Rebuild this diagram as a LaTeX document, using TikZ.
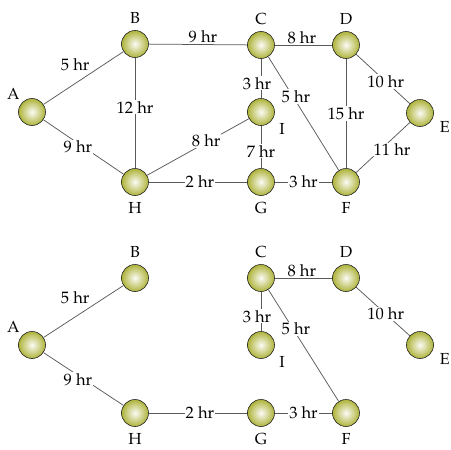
\documentclass[tikz,border=0pt]{standalone}
\usepackage[T1]{fontenc}
\renewcommand{\rmdefault}{ppl}
\usetikzlibrary{positioning}
\definecolor{ballolive}{HTML}{AEB33A}
\definecolor{roadgray}{HTML}{5A5A5A}

\begin{document}
\begin{tikzpicture}[x=1pt, y=-1pt,
      city/.style={circle, draw=black!85, line width=0.6pt, minimum size=27pt, inner sep=0pt,
                   inner color=ballolive!5, outer color=ballolive},
      lbl/.style={font=\fontsize{16}{18}\selectfont, inner sep=1pt, label distance=5pt},
      road/.style={draw=roadgray, line width=0.75pt},
      hrs/.style={font=\fontsize{16.5}{18}\selectfont, fill=white, inner sep=1pt}]
    \useasboundingbox (0,0) rectangle (451,450);
    % full road network
    \node[city, label={[lbl, label distance=2pt]above left:A}] (A) at (32,112) {};
    \node[city, label={[lbl]above:B}] (B) at (135,44) {};
    \node[city, label={[lbl]above:C}] (C) at (261,45) {};
    \node[city, label={[lbl]above:D}] (D) at (346,45) {};
    \node[city, label={[lbl, label distance=6pt]-20:E}] (E) at (420,113) {};
    \node[city, label={[lbl, label distance=6pt]-30:I}] (I) at (261,112) {};
    \node[city, label={[lbl]below:H}] (H) at (135,182) {};
    \node[city, label={[lbl]below:G}] (G) at (261,182) {};
    \node[city, label={[lbl]below:F}] (F) at (346,182) {};
    \draw[road] (A) -- node[hrs, pos=.6, above left=1pt, fill=none] {5 hr} (B);
    \draw[road] (A) -- node[hrs, pos=.43, yshift=-4pt] {9 hr} (H);
    \draw[road] (B) -- node[hrs, pos=.45] {12 hr} (H);
    \draw[road] (B) -- node[hrs, pos=.55, above] {9 hr} (C);
    \draw[road] (C) -- node[hrs, pos=.47, above] {8 hr} (D);
    \draw[road] (C) -- node[hrs, pos=.62, xshift=-4pt] {3 hr} (I);
    \draw[road] (C) -- node[hrs, pos=.35, xshift=3pt] {5 hr} (F);
    \draw[road] (D) -- node[hrs, pos=.5] {15 hr} (F);
    \draw[road] (D) -- node[hrs, pos=.55] {10 hr} (E);
    \draw[road] (E) -- node[hrs, pos=.5, xshift=9pt, yshift=-2pt] {11 hr} (F);
    \draw[road] (H) -- node[hrs, pos=.58, yshift=2pt] {8 hr} (I);
    \draw[road] (I) -- node[hrs, pos=.6] {7 hr} (G);
    \draw[road] (H) -- node[hrs, pos=.52] {2 hr} (G);
    \draw[road] (G) -- node[hrs, pos=.5] {3 hr} (F);
    % spanning tree
    \node[city, label={[lbl, label distance=2pt]above left:A}] (a2) at (32,345) {};
    \node[city, label={[lbl]above:B}] (b2) at (135,278) {};
    \node[city, label={[lbl]above:C}] (c2) at (261,278) {};
    \node[city, label={[lbl]above:D}] (d2) at (346,278) {};
    \node[city, label={[lbl, label distance=6pt]-20:E}] (e2) at (420,345) {};
    \node[city, label={[lbl, label distance=6pt]-30:I}] (i2) at (261,345) {};
    \node[city, label={[lbl]below:H}] (h2) at (135,413) {};
    \node[city, label={[lbl]below:G}] (g2) at (261,413) {};
    \node[city, label={[lbl]below:F}] (f2) at (346,413) {};
    \draw[road] (a2) -- node[hrs, pos=.6, above left=1pt, fill=none] {5 hr} (b2);
    \draw[road] (a2) -- node[hrs, pos=.43, yshift=-4pt] {9 hr} (h2);
    \draw[road] (c2) -- node[hrs, pos=.47, above] {8 hr} (d2);
    \draw[road] (c2) -- node[hrs, pos=.62, xshift=-4pt] {3 hr} (i2);
    \draw[road] (c2) -- node[hrs, pos=.35, xshift=3pt] {5 hr} (f2);
    \draw[road] (d2) -- node[hrs, pos=.55] {10 hr} (e2);
    \draw[road] (h2) -- node[hrs, pos=.52] {2 hr} (g2);
    \draw[road] (g2) -- node[hrs, pos=.5] {3 hr} (f2);
  \end{tikzpicture}
\end{document}
